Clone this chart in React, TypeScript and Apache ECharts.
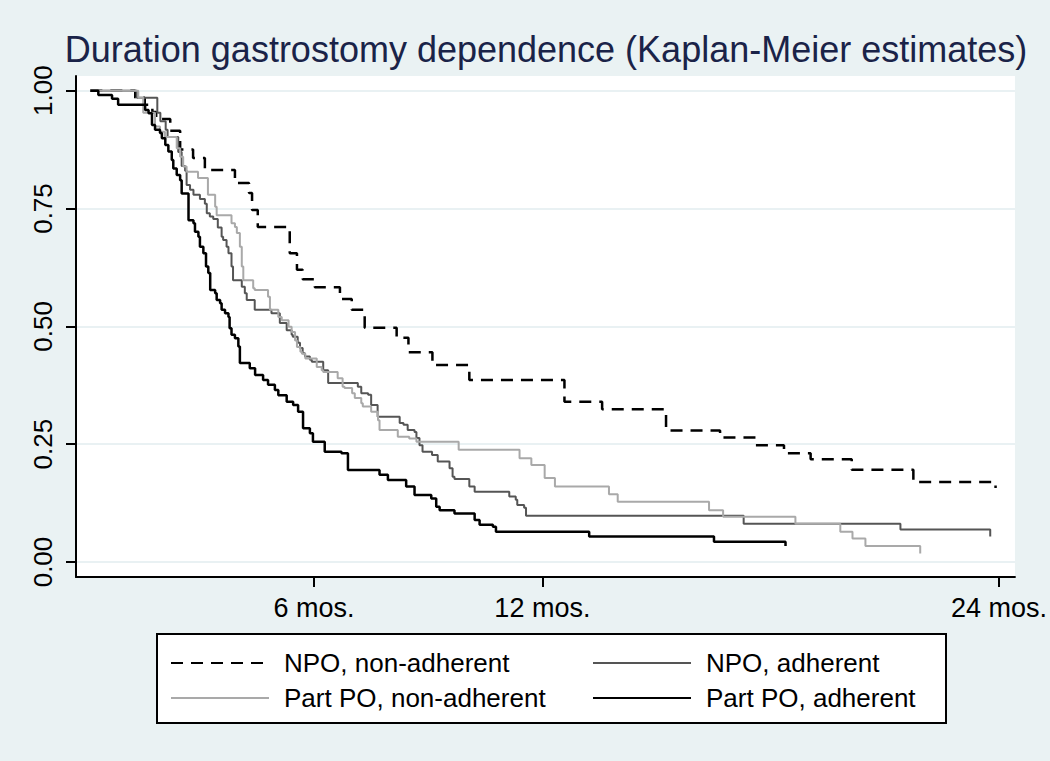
import React, { useEffect, useRef } from "react";
import * as echarts from "echarts";

const titleText = "Duration gastrostomy dependence (Kaplan-Meier estimates)";
const seriesNames = ["NPO, non-adherent", "NPO, adherent", "Part PO, non-adherent", "Part PO, adherent"];

const xTickValues = [6, 12, 24];
const xTickLabels = ["6 mos.", "12 mos.", "24 mos."];
const yTickValues = [0, 0.25, 0.5, 0.75, 1];
const yTickLabels = ["0.00", "0.25", "0.50", "0.75", "1.00"];

// [months, survival]
const npoNonAdherent: [number, number][] = [
  [0.12, 1.0], [1.3, 0.985], [1.55, 0.97], [1.75, 0.955], [1.85, 0.94], [2.22, 0.915], [2.48, 0.875],
  [2.82, 0.857], [3.13, 0.832], [3.92, 0.804], [4.29, 0.783], [4.37, 0.747], [4.52, 0.711], [5.36, 0.655],
  [5.55, 0.62], [5.7, 0.6], [6.02, 0.583], [6.68, 0.558], [6.99, 0.535], [7.33, 0.497], [8.17, 0.476],
  [8.48, 0.445], [9.11, 0.418], [10.08, 0.386], [12.58, 0.34], [13.57, 0.324], [15.25, 0.279],
  [16.67, 0.264], [17.61, 0.248], [18.35, 0.231], [19.05, 0.218], [20.13, 0.196], [21.75, 0.17], [23.91, 0.157],
];

const npoAdherent: [number, number][] = [
  [0.12, 1.0], [1.34, 0.985], [1.88, 0.953], [1.96, 0.935], [2.1, 0.917], [2.15, 0.902], [2.43, 0.87],
  [2.52, 0.84], [2.61, 0.83], [2.65, 0.8], [2.74, 0.79], [2.83, 0.779], [3.0, 0.77], [3.13, 0.76],
  [3.18, 0.74], [3.26, 0.733], [3.35, 0.728], [3.47, 0.71], [3.57, 0.69], [3.61, 0.683], [3.7, 0.669],
  [3.75, 0.655], [3.83, 0.627], [3.87, 0.598], [4.1, 0.584], [4.18, 0.57], [4.23, 0.556], [4.44, 0.535],
  [4.88, 0.528], [5.1, 0.507], [5.28, 0.492], [5.41, 0.482], [5.44, 0.478], [5.57, 0.465], [5.63, 0.454],
  [5.7, 0.443], [5.76, 0.436], [5.89, 0.429], [5.94, 0.425], [6.24, 0.407], [6.37, 0.38], [7.15, 0.372],
  [7.24, 0.358], [7.42, 0.355], [7.5, 0.333], [7.67, 0.308], [8.25, 0.295], [8.35, 0.291], [8.46, 0.28],
  [8.64, 0.276], [8.69, 0.263], [8.77, 0.248], [8.85, 0.234], [9.1, 0.227], [9.25, 0.213], [9.56, 0.199],
  [9.64, 0.181], [9.69, 0.176], [10.08, 0.16], [10.22, 0.149], [11.13, 0.139], [11.3, 0.132], [11.34, 0.121],
  [11.52, 0.115], [11.57, 0.098], [17.29, 0.081], [21.41, 0.069], [23.77, 0.054],
];

const partPoNonAdherent: [number, number][] = [
  [0.12, 1.0], [1.38, 0.985], [1.51, 0.953], [1.82, 0.924], [1.95, 0.913], [2.08, 0.902], [2.39, 0.878],
  [2.48, 0.86], [2.56, 0.839], [2.65, 0.828], [2.95, 0.815], [3.21, 0.779], [3.4, 0.754], [3.44, 0.736],
  [3.83, 0.719], [3.92, 0.711], [3.97, 0.698], [4.05, 0.669], [4.1, 0.627], [4.14, 0.598], [4.4, 0.581],
  [4.44, 0.577], [4.79, 0.563], [4.84, 0.535], [5.06, 0.52], [5.15, 0.513], [5.33, 0.499], [5.41, 0.488],
  [5.5, 0.47], [5.55, 0.456], [5.64, 0.446], [5.68, 0.442], [5.77, 0.432], [6.07, 0.414], [6.2, 0.407],
  [6.24, 0.403], [6.62, 0.39], [6.75, 0.372], [6.8, 0.369], [7.0, 0.358], [7.07, 0.348], [7.24, 0.337],
  [7.28, 0.33], [7.5, 0.319], [7.68, 0.301], [7.72, 0.28], [8.2, 0.266], [8.5, 0.262], [8.69, 0.255],
  [9.8, 0.238], [11.4, 0.22], [11.71, 0.206], [12.06, 0.178], [12.33, 0.16], [13.75, 0.144], [13.98, 0.128],
  [16.38, 0.11], [16.75, 0.096], [18.65, 0.081], [19.83, 0.064], [20.15, 0.05], [20.49, 0.034], [21.93, 0.018],
];

const partPoAdherent: [number, number][] = [
  [0.12, 1.0], [0.33, 0.991], [0.69, 0.983], [0.85, 0.97], [1.56, 0.959], [1.65, 0.952], [1.74, 0.927],
  [1.82, 0.917], [1.95, 0.91], [2.0, 0.899], [2.09, 0.885], [2.17, 0.871], [2.26, 0.853], [2.3, 0.835],
  [2.39, 0.821], [2.48, 0.81], [2.52, 0.782], [2.7, 0.725], [2.83, 0.719], [2.87, 0.701], [2.96, 0.69],
  [3.0, 0.669], [3.09, 0.655], [3.16, 0.627], [3.22, 0.613], [3.27, 0.577], [3.4, 0.57], [3.44, 0.556],
  [3.53, 0.549], [3.57, 0.535], [3.66, 0.528], [3.75, 0.52], [3.78, 0.496], [3.83, 0.482], [3.92, 0.475],
  [4.01, 0.457], [4.05, 0.422], [4.31, 0.411], [4.45, 0.397], [4.66, 0.386], [4.79, 0.376], [4.97, 0.365],
  [5.06, 0.354], [5.28, 0.34], [5.45, 0.333], [5.58, 0.319], [5.71, 0.284], [5.89, 0.273], [5.97, 0.255],
  [6.28, 0.234], [6.72, 0.231], [6.89, 0.195], [7.72, 0.185], [7.94, 0.174], [8.42, 0.16], [8.64, 0.142],
  [9.08, 0.135], [9.21, 0.117], [9.3, 0.11], [9.69, 0.103], [10.22, 0.089], [10.35, 0.079], [10.7, 0.075],
  [10.78, 0.064], [13.23, 0.054], [16.51, 0.043], [18.39, 0.034],
];

const seriesData = [npoNonAdherent, npoAdherent, partPoNonAdherent, partPoAdherent];
const seriesColors = ["#000000", "#555555", "#a9a9a9", "#000000"];
const seriesWidths = [2.5, 2, 2, 2.5];
const seriesDash: any[] = [[12, 8], "solid", "solid", "solid"];

const FONT = '"Liberation Sans", Arial, Helvetica, sans-serif';

function labelFor(values: number[], labels: string[], v: number) {
  for (let i = 0; i < values.length; i++) {
    if (Math.abs(values[i] - v) < 1e-6) return labels[i];
  }
  return "";
}

export default function App() {
  const ref = useRef<HTMLDivElement>(null);
  useEffect(() => {
    const chart = echarts.init(ref.current!, null, { renderer: "svg" });
    const legendPos = [
      { left: 170, top: 650 },
      { left: 592, top: 650 },
      { left: 170, top: 685 },
      { left: 592, top: 685 },
    ];
    const option: any = {
      animation: false,
      backgroundColor: "#eaf2f3",
      textStyle: { fontFamily: FONT },
      graphic: [
        {
          type: "text",
          x: 546,
          y: 49,
          style: {
            text: titleText,
            fontSize: 36,
            fontFamily: FONT,
            fill: "#1a2348",
            align: "center",
            verticalAlign: "middle",
          },
        },
        {
          type: "rect",
          z: 1,
          shape: { x: 157, y: 634, width: 789, height: 89 },
          style: { fill: "#ffffff", stroke: "#000000", lineWidth: 2 },
        },
      ],
      grid: {
        left: 76,
        right: 33,
        top: 76,
        bottom: 184,
        show: true,
        backgroundColor: "#ffffff",
        borderWidth: 0,
      },
      xAxis: {
        type: "value",
        min: -0.257,
        max: 24.42,
        axisLine: { show: true, onZero: false, lineStyle: { color: "#000", width: 2 } },
        axisTick: { show: true, customValues: xTickValues, length: 10, lineStyle: { color: "#000", width: 2 } },
        axisLabel: {
          customValues: xTickValues,
          formatter: (v: number) => labelFor(xTickValues, xTickLabels, v),
          fontSize: 27,
          fontFamily: FONT,
          color: "#000",
          margin: 17,
        },
        splitLine: { show: false },
      },
      yAxis: {
        type: "value",
        min: -0.0318,
        max: 1.0312,
        axisLine: { show: true, onZero: false, lineStyle: { color: "#000", width: 2 } },
        axisTick: { show: true, customValues: yTickValues, length: 10, lineStyle: { color: "#000", width: 2 } },
        axisLabel: {
          customValues: yTickValues,
          formatter: (v: number) => labelFor(yTickValues, yTickLabels, v),
          rotate: 90,
          fontSize: 26,
          fontFamily: FONT,
          color: "#000",
          margin: 20,
        },
        splitLine: { show: true, lineStyle: { color: "#e2ecef", width: 1.5 } },
      },
      legend: seriesNames.map((name, i) => ({
        data: [name],
        left: legendPos[i].left,
        top: legendPos[i].top,
        orient: "horizontal",
        padding: 0,
        z: 5,
        itemWidth: 98,
        itemHeight: 14,
        selectedMode: false,
        itemStyle: { color: "rgba(0,0,0,0)", borderWidth: 0, borderColor: "rgba(0,0,0,0)" },
        textStyle: { fontSize: 26, fontFamily: FONT, color: "#000", padding: [0, 0, 0, 10] },
      })),
      series: seriesNames.map((name, i) => ({
        type: "line",
        name,
        data: seriesData[i],
        step: "end",
        symbol: "none",
        showSymbol: false,
        silent: true,
        color: seriesColors[i],
        lineStyle: { color: seriesColors[i], width: seriesWidths[i], type: seriesDash[i], cap: "butt" },
      })),
    };
    chart.setOption(option);
    return () => chart.dispose();
  }, []);
  return (
    <div style={{ position: "absolute", left: 0, top: 0, width: 1050, height: 761, background: "#eaf2f3" }}>
      <div ref={ref} style={{ width: 1050, height: 761 }} />
    </div>
  );
}
